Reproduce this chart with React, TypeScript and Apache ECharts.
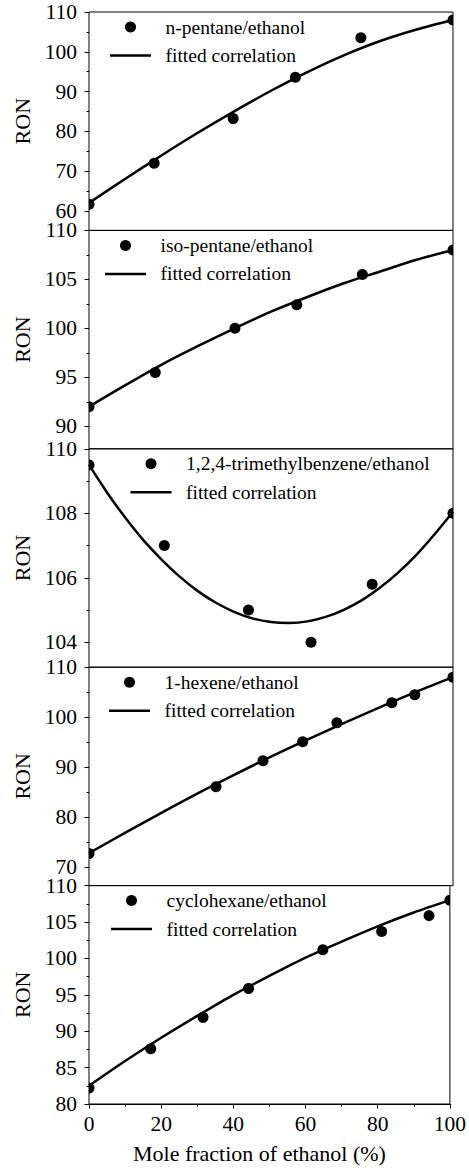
import React, { useEffect, useRef } from "react";
import * as echarts from "echarts";

// ---- data ----
const FIT_X = [0, 10, 20, 30, 40, 50, 60, 70, 80, 90, 100];
const FIT_X_FINE = [0, 5, 10, 15, 20, 25, 30, 35, 40, 45, 50, 55, 60, 65, 70, 75, 80, 85, 90, 95, 100];
const X_TICKS = [0, 20, 40, 60, 80, 100];

const NPENTANE_X = [0, 17.9, 39.6, 56.7, 74.7, 100];
const NPENTANE_RON = [61.7, 72.0, 83.2, 93.6, 103.5, 108.0];
const NPENTANE_FIT = [62.0, 68.1, 74.0, 79.7, 85.1, 90.2, 94.9, 99.1, 102.7, 105.6, 108.0];
const NPENTANE_MAJOR = [60, 70, 80, 90, 100, 110];
const NPENTANE_MINOR = [65, 75, 85, 95, 105];

const ISOPENTANE_X = [0, 18.2, 40.1, 57.1, 75.1, 100];
const ISOPENTANE_RON = [92.0, 95.5, 100.0, 102.4, 105.5, 108.0];
const ISOPENTANE_FIT = [92.0, 94.2, 96.3, 98.2, 100.0, 101.7, 103.2, 104.6, 105.8, 107.0, 108.0];
const ISOPENTANE_MAJOR = [90, 95, 100, 105, 110];
const ISOPENTANE_MINOR = [92.5, 97.5, 102.5, 107.5];

const TMB_X = [0, 20.7, 43.8, 61.0, 77.8, 100];
const TMB_RON = [109.5, 107.0, 105.0, 104.0, 105.8, 108.0];
const TMB_FIT = [
  109.5, 108.64, 107.86, 107.16, 106.56, 106.03, 105.58, 105.22, 104.94, 104.74, 104.63,
  104.6, 104.65, 104.79, 105.01, 105.31, 105.7, 106.17, 106.72, 107.36, 108.05,
];
const TMB_MAJOR = [104, 106, 108, 110];
const TMB_MINOR = [105, 107, 109];

const HEXENE_X = [0, 34.9, 47.8, 58.7, 68.1, 83.2, 89.5, 100];
const HEXENE_RON = [72.7, 86.1, 91.3, 95.1, 98.9, 102.9, 104.5, 108.0];
const HEXENE_FIT = [72.8, 76.9, 80.9, 84.8, 88.5, 92.1, 95.5, 98.8, 102.0, 105.1, 108.0];
const HEXENE_MAJOR = [70, 80, 90, 100, 110];
const HEXENE_MINOR = [75, 85, 95, 105];

const CYCLO_X = [0, 17.1, 31.6, 44.2, 64.8, 81.1, 94.2, 100];
const CYCLO_RON = [82.2, 87.6, 91.9, 96.0, 101.2, 103.7, 106.0, 108.0];
const CYCLO_FIT = [82.5, 85.9, 89.1, 92.1, 95.0, 97.6, 100.1, 102.3, 104.4, 106.3, 108.0];
const CYCLO_MAJOR = [80, 85, 90, 95, 100, 105, 110];
const CYCLO_MINOR = [82.5, 87.5, 92.5, 97.5, 102.5, 107.5];

const PANELS = [
  { label: "n-pentane/ethanol", x: NPENTANE_X, ron: NPENTANE_RON, fitX: FIT_X, fit: NPENTANE_FIT, min: 55.1, major: NPENTANE_MAJOR, minor: NPENTANE_MINOR, legendLeft: 110 },
  { label: "iso-pentane/ethanol", x: ISOPENTANE_X, ron: ISOPENTANE_RON, fitX: FIT_X, fit: ISOPENTANE_FIT, min: 87.7, major: ISOPENTANE_MAJOR, minor: ISOPENTANE_MINOR, legendLeft: 105 },
  { label: "1,2,4-trimethylbenzene/ethanol", x: TMB_X, ron: TMB_RON, fitX: FIT_X_FINE, fit: TMB_FIT, min: 103.23, major: TMB_MAJOR, minor: TMB_MINOR, legendLeft: 130.5 },
  { label: "1-hexene/ethanol", x: HEXENE_X, ron: HEXENE_RON, fitX: FIT_X, fit: HEXENE_FIT, min: 66.3, major: HEXENE_MAJOR, minor: HEXENE_MINOR, legendLeft: 109 },
  { label: "cyclohexane/ethanol", x: CYCLO_X, ron: CYCLO_RON, fitX: FIT_X, fit: CYCLO_FIT, min: 80, major: CYCLO_MAJOR, minor: CYCLO_MINOR, legendLeft: 111 },
];

const W = 469;
const H = 1168;
const GRID_LEFT = 89;
const GRID_RIGHT = 16;
const GRID_TOP = 12;
const PANEL_H = 218.4;
const FONT = "Liberation Serif, DejaVu Serif, serif";

export default function App() {
  const ref = useRef<HTMLDivElement>(null);

  useEffect(() => {
    const chart = echarts.init(ref.current!, null, { renderer: "svg" });
    const grid: any[] = [];
    const xAxis: any[] = [];
    const yAxis: any[] = [];
    const series: any[] = [];
    const graphic: any[] = [];

    PANELS.forEach((p, i) => {
      const top = GRID_TOP + i * PANEL_H;
      const isLast = i === PANELS.length - 1;
      grid.push({
        left: GRID_LEFT,
        right: GRID_RIGHT,
        top,
        height: PANEL_H,
        show: true,
        borderColor: "#000",
        borderWidth: 1,
        backgroundColor: "transparent",
      });
      xAxis.push({
        type: "value",
        gridIndex: i,
        min: 0,
        max: 100,
        interval: 20,
        show: isLast,
        axisLine: { show: true, lineStyle: { color: "#000", width: 1 } },
        axisTick: { show: true, inside: false, length: 4.5, lineStyle: { color: "#000", width: 1 } },
        minorTick: { show: true, splitNumber: 2, length: 2.5, lineStyle: { color: "#000", width: 1 } },
        axisLabel: {
          show: true,
          customValues: X_TICKS,
          margin: 9,
          color: "#000",
          fontFamily: FONT,
          fontSize: 21.5,
        },
        splitLine: { show: false },
        minorSplitLine: { show: false },
        name: isLast ? "Mole fraction of ethanol (%)" : "",
        nameLocation: "middle",
        nameGap: 38,
        nameTextStyle: { color: "#000", fontFamily: FONT, fontSize: 22, padding: [0, 20, 0, 0] },
      });
      yAxis.push({
        type: "value",
        gridIndex: i,
        min: p.min,
        max: 110,
        position: "left",
        axisLine: { show: false },
        axisTick: { show: true, inside: false, length: 4.5, customValues: p.major, lineStyle: { color: "#000", width: 1 } },
        axisLabel: {
          customValues: p.major,
          margin: 12,
          color: "#000",
          fontFamily: FONT,
          fontSize: 21.5,
          lineHeight: 16,
        },
        splitLine: { show: false },
        name: "RON",
        nameLocation: "middle",
        nameGap: 53,
        nameTextStyle: { color: "#000", fontFamily: FONT, fontSize: 22 },
      });
      yAxis.push({
        type: "value",
        gridIndex: i,
        min: p.min,
        max: 110,
        position: "left",
        axisLine: { show: false },
        axisTick: { show: true, inside: false, length: 2.5, customValues: p.minor, lineStyle: { color: "#000", width: 1 } },
        axisLabel: { show: false },
        splitLine: { show: false },
      });
      series.push({
        type: "line",
        xAxisIndex: i,
        yAxisIndex: 2 * i,
        data: p.fitX.map((x, k) => [x, p.fit[k]]),
        smooth: 0.3,
        showSymbol: false,
        symbol: "none",
        lineStyle: { color: "#000", width: 2.5 },
        z: 2,
        silent: true,
      });
      series.push({
        type: "custom",
        xAxisIndex: i,
        yAxisIndex: 2 * i,
        data: p.x.map((x, k) => [x, p.ron[k]]),
        encode: { x: 0, y: 1 },
        clip: true,
        z: 3,
        silent: true,
        renderItem: (_params: any, api: any) => {
          const c = api.coord([api.value(0), api.value(1)]);
          return {
            type: "circle",
            shape: { cx: c[0], cy: c[1], r: 5.5 },
            style: { fill: "#000" },
          };
        },
      });

      const lx = p.legendLeft;
      const row1 = top + 15;
      const row2 = top + 43.5;
      graphic.push(
        { type: "circle", shape: { cx: lx + 20.5, cy: row1, r: 5.5 }, style: { fill: "#000" }, z: 10 },
        { type: "line", shape: { x1: lx, y1: row2, x2: lx + 41, y2: row2 }, style: { stroke: "#000", lineWidth: 2.5 }, z: 10 },
        {
          type: "text",
          x: lx + 55.5,
          y: row1,
          style: { text: p.label, fill: "#000", fontFamily: FONT, fontSize: 19.5, verticalAlign: "middle", align: "left" },
          z: 10,
        },
        {
          type: "text",
          x: lx + 55.5,
          y: row2,
          style: { text: "fitted correlation", fill: "#000", fontFamily: FONT, fontSize: 19.5, verticalAlign: "middle", align: "left" },
          z: 10,
        }
      );
    });

    chart.setOption({
      animation: false,
      backgroundColor: "#fff",
      grid,
      xAxis,
      yAxis,
      series,
      graphic,
    });

    return () => chart.dispose();
  }, []);

  return (
    <div
      ref={ref}
      style={{ position: "absolute", left: 0, top: 0, width: W, height: H, background: "#fff" }}
    />
  );
}
